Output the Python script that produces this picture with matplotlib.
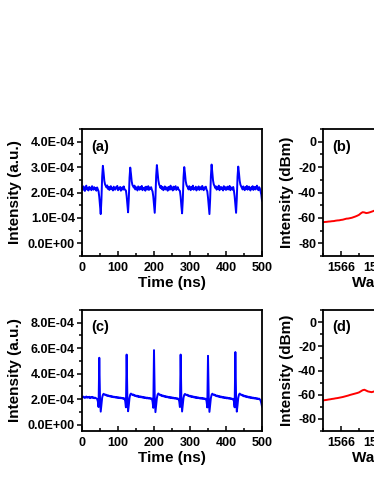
import numpy as np
import matplotlib
matplotlib.use("Agg")
import matplotlib.pyplot as plt
from matplotlib.ticker import MultipleLocator, FuncFormatter

plt.rcParams['font.family'] = ['Liberation Sans', 'DejaVu Sans']
plt.rcParams['font.weight'] = 'bold'
plt.rcParams['axes.labelweight'] = 'bold'
plt.rcParams['axes.unicode_minus'] = False

# ---------------- data ----------------
# (a) time trace, units of 1e-4 a.u., sampled every 2 ns from 0 to 500 ns
a_vals = [
    2.18, 2.10, 2.24, 2.15, 2.06, 2.20, 2.27, 2.12, 2.17, 2.08, 2.22, 2.14, 2.19, 2.09, 2.25, 2.16, 2.11, 2.21, 2.13, 2.18, 2.07, 2.20, 2.12,
    2.05, 1.82, 1.48, 1.15, 1.72, 2.62, 3.05, 2.78, 2.46, 2.32, 2.26,
    2.20, 2.28, 2.14, 2.22, 2.10, 2.19, 2.25, 2.13, 2.17, 2.08, 2.23, 2.15, 2.11, 2.21, 2.16, 2.26, 2.09, 2.18, 2.13, 2.22, 2.07, 2.17, 2.20, 2.11, 2.24, 2.14, 2.10,
    2.08, 1.86, 1.52, 1.22, 1.75, 2.58, 2.98, 2.74, 2.44, 2.30, 2.24,
    2.19, 2.27, 2.12, 2.21, 2.15, 2.08, 2.24, 2.17, 2.11, 2.22, 2.14, 2.26, 2.09, 2.18, 2.13, 2.20, 2.07, 2.23, 2.16, 2.12, 2.25, 2.10, 2.19, 2.14, 2.21, 2.11,
    2.04, 1.84, 1.50, 1.20, 1.78, 2.66, 3.08, 2.80, 2.48, 2.33, 2.25,
    2.18, 2.26, 2.13, 2.21, 2.09, 2.17, 2.24, 2.12, 2.20, 2.15, 2.07, 2.22, 2.16, 2.11, 2.27, 2.14, 2.19, 2.08, 2.23, 2.12, 2.18, 2.25, 2.10, 2.16, 2.21, 2.13, 2.09,
    2.06, 1.83, 1.47, 1.18, 1.70, 2.60, 3.00, 2.76, 2.45, 2.31, 2.24,
    2.20, 2.12, 2.25, 2.16, 2.09, 2.22, 2.14, 2.27, 2.11, 2.18, 2.13, 2.23, 2.08, 2.19, 2.15, 2.24, 2.10, 2.17, 2.21, 2.12, 2.26, 2.14, 2.09, 2.20, 2.16, 2.23, 2.11,
    2.05, 1.80, 1.46, 1.15, 1.74, 2.64, 3.10, 2.79, 2.47, 2.32, 2.26,
    2.18, 2.24, 2.11, 2.20, 2.15, 2.27, 2.09, 2.17, 2.22, 2.13, 2.19, 2.08, 2.25, 2.14, 2.21, 2.10, 2.18, 2.23, 2.12, 2.16, 2.26, 2.09, 2.20, 2.15, 2.11, 2.22,
    2.07, 1.85, 1.50, 1.20, 1.76, 2.62, 3.02, 2.77, 2.46, 2.31, 2.25,
    2.19, 2.12, 2.24, 2.16, 2.09, 2.21, 2.14, 2.26, 2.11, 2.18, 2.23, 2.13, 2.08, 2.20, 2.15, 2.25, 2.10, 2.17, 2.22, 2.12, 2.19, 2.27, 2.14, 2.09, 2.21, 2.16, 2.05, 1.92, 1.68,
]

# (c) time trace, units of 1e-4 a.u., sampled every 2 ns from 0 to 500 ns
c_vals = [
    2.18, 2.12, 2.20, 2.14, 2.09, 2.16, 2.21, 2.11, 2.17, 2.13, 2.19, 2.08, 2.15, 2.12, 2.18, 2.10, 2.14, 2.07, 2.12, 2.09, 2.05, 2.02,
    1.82, 1.38, 5.25, 2.10, 1.02, 1.55, 2.12, 2.34, 2.42, 2.38, 2.33,
    2.36, 2.28, 2.31, 2.25, 2.29, 2.22, 2.26, 2.19, 2.24, 2.17, 2.21, 2.15, 2.19, 2.13, 2.17, 2.11, 2.16, 2.10, 2.14, 2.08, 2.13, 2.07, 2.11, 2.05, 2.09, 2.03, 2.06,
    1.85, 1.36, 5.50, 2.20, 1.05, 1.52, 2.10, 2.36, 2.44, 2.37, 2.34,
    2.37, 2.29, 2.32, 2.24, 2.28, 2.21, 2.27, 2.18, 2.23, 2.16, 2.22, 2.14, 2.20, 2.12, 2.17, 2.10, 2.15, 2.09, 2.13, 2.06, 2.12, 2.05, 2.10, 2.04, 2.08, 2.02, 2.05,
    1.80, 1.32, 5.85, 2.25, 0.98, 1.50, 2.08, 2.35, 2.45, 2.39, 2.33,
    2.35, 2.27, 2.31, 2.23, 2.28, 2.20, 2.25, 2.17, 2.22, 2.15, 2.20, 2.12, 2.18, 2.10, 2.16, 2.09, 2.14, 2.07, 2.12, 2.05, 2.10, 2.04, 2.08, 2.02, 2.06, 2.00,
    1.84, 1.38, 5.50, 2.15, 1.03, 1.54, 2.11, 2.33, 2.41, 2.36, 2.32,
    2.35, 2.27, 2.30, 2.22, 2.27, 2.19, 2.24, 2.16, 2.22, 2.14, 2.19, 2.11, 2.17, 2.09, 2.15, 2.08, 2.13, 2.06, 2.11, 2.04, 2.10, 2.03, 2.08, 2.02, 2.06, 2.00, 2.04,
    1.83, 1.35, 5.40, 2.18, 1.00, 1.53, 2.09, 2.34, 2.43, 2.37, 2.33,
    2.36, 2.28, 2.30, 2.23, 2.28, 2.20, 2.25, 2.17, 2.22, 2.14, 2.20, 2.12, 2.17, 2.10, 2.15, 2.08, 2.14, 2.06, 2.12, 2.05, 2.10, 2.03, 2.08, 2.02, 2.05, 1.99, 2.03,
    1.82, 1.36, 5.70, 2.22, 1.02, 1.51, 2.10, 2.35, 2.44, 2.38, 2.33,
    2.35, 2.27, 2.31, 2.22, 2.27, 2.19, 2.24, 2.16, 2.21, 2.13, 2.19, 2.11, 2.16, 2.09, 2.14, 2.07, 2.12, 2.05, 2.10, 2.04, 2.08, 2.02, 2.06, 2.00, 2.04, 1.98, 1.90, 1.70, 1.42,
]

# (b), (d) optical spectra (dBm), sampled every 0.1 nm from 1565.0 nm
b_dbm = [-63.4, -63.2, -63.1, -62.9, -62.8, -62.6, -62.5, -62.2, -62.0, -61.9,
         -61.6, -61.4, -61.0, -60.6, -60.5, -60.2, -59.9, -59.4, -58.9, -58.3,
         -57.6, -56.4, -55.5, -55.7, -56.2, -56.0, -55.6, -55.1, -54.6, -54.0,
         -53.4, -52.8, -52.1, -51.5, -50.8, -50.0]
d_dbm = [-64.7, -64.5, -64.3, -64.0, -63.8, -63.5, -63.3, -63.0, -62.8, -62.5,
         -62.2, -61.9, -61.5, -61.1, -60.7, -60.2, -59.8, -59.4, -59.0, -58.6,
         -58.1, -57.2, -56.3, -55.9, -56.6, -57.3, -57.6, -57.9, -57.5, -57.0,
         -56.5, -55.9, -55.3, -54.8, -54.2, -53.6]
wl_start, wl_step = 1565.0, 0.1

time_ticks = [0, 100, 200, 300, 400, 500]
wl_ticks = [1566, 1568, 1570, 1572, 1574]
dbm_ticks = [0, -20, -40, -60, -80]

# ---------------- figure ----------------
W, H = 374, 484
fig = plt.figure(figsize=(W / 100, H / 100), dpi=100)


def px_axes(x0, y_top, w, y_bot):
    return fig.add_axes([x0 / W, 1 - y_bot / H, w / W, (y_bot - y_top) / H])


TICK_FS = 9
LAB_FS = 11


def sci_fmt(v, pos):
    return "%.1E" % v


def style(ax):
    for sp in ax.spines.values():
        sp.set_linewidth(1.3)
    ax.tick_params(axis='y', which='both', direction='out', width=1.1, labelsize=TICK_FS, pad=1.5)
    ax.tick_params(axis='y', which='major', length=3.5)
    ax.tick_params(axis='y', which='minor', length=2)
    ax.tick_params(axis='x', which='both', direction='in', width=1.1, labelsize=TICK_FS, pad=4)
    ax.tick_params(axis='x', which='major', length=3.5)
    ax.tick_params(axis='x', which='minor', length=2)
    for lab in ax.get_xticklabels() + ax.get_yticklabels():
        lab.set_fontweight('bold')


def time_panel(ax, vals, ylim, ystep, letter):
    y = np.array(vals) * 1e-4
    t = np.linspace(0, 500, len(vals))
    ax.plot(t, y, color='#0000FF', lw=1.4)
    ax.set_xlim(0, 500)
    ax.set_ylim(*ylim)
    ax.set_xticks(time_ticks)
    ax.xaxis.set_minor_locator(MultipleLocator(50))
    ax.yaxis.set_major_locator(MultipleLocator(ystep))
    ax.yaxis.set_minor_locator(MultipleLocator(ystep / 2))
    ax.yaxis.set_major_formatter(FuncFormatter(sci_fmt))
    ax.set_xlabel("Time (ns)", fontsize=LAB_FS, fontweight='bold', labelpad=2)
    ax.set_ylabel("Intensity (a.u.)", fontsize=LAB_FS, fontweight='bold', labelpad=4)
    ax.text(0.05, 0.86, letter, transform=ax.transAxes, fontsize=10.5,
            fontweight='bold', va='center', ha='left')
    style(ax)


def spec_panel(ax, vals, letter):
    wl = wl_start + wl_step * np.arange(len(vals))
    ax.plot(wl, vals, color='#FF0000', lw=1.4)
    ax.set_xlim(1565, 1575)
    ax.set_ylim(-90, 10)
    ax.set_xticks(wl_ticks)
    ax.xaxis.set_minor_locator(MultipleLocator(1))
    ax.set_yticks(dbm_ticks)
    ax.yaxis.set_minor_locator(MultipleLocator(10))
    ax.set_xlabel("Wavelength (nm)", fontsize=LAB_FS, fontweight='bold', labelpad=2)
    ax.set_ylabel("Intensity (dBm)", fontsize=LAB_FS, fontweight='bold', labelpad=3)
    ax.text(0.05, 0.86, letter, transform=ax.transAxes, fontsize=10.5,
            fontweight='bold', va='center', ha='left')
    style(ax)


ax_a = px_axes(82, 129, 180, 256)
time_panel(ax_a, a_vals, (-0.5e-4, 4.5e-4), 1e-4, "(a)")

ax_b = px_axes(323, 129, 180, 256)
spec_panel(ax_b, b_dbm, "(b)")

ax_c = px_axes(82, 310, 180, 431)
time_panel(ax_c, c_vals, (-0.5e-4, 9e-4), 2e-4, "(c)")

ax_d = px_axes(323, 310, 180, 431)
spec_panel(ax_d, d_dbm, "(d)")

fig.savefig("out.png", dpi=100)
